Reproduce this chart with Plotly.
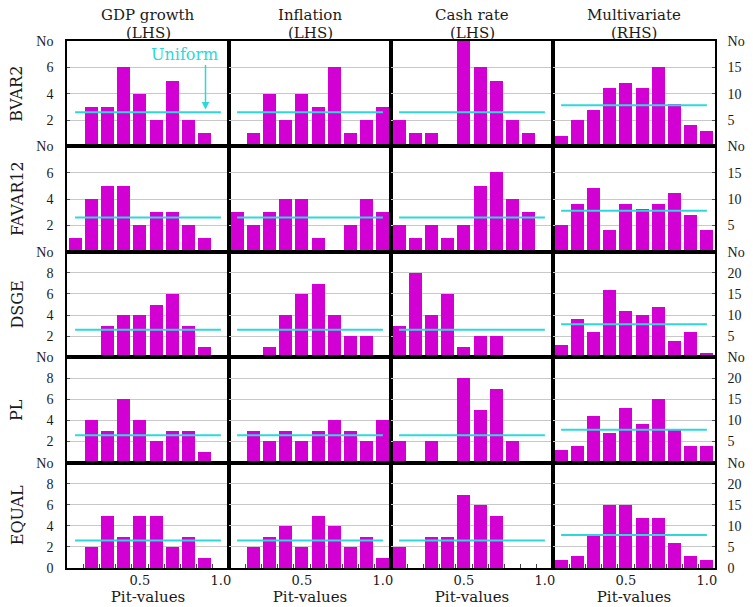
import plotly.graph_objects as go

# ---------------- data ----------------
pit_bins = [0.1, 0.2, 0.3, 0.4, 0.5, 0.6, 0.7, 0.8, 0.9, 1.0]
models = ["BVAR2", "FAVAR12", "DSGE", "PL", "EQUAL"]
col_titles = ["GDP growth", "Inflation", "Cash rate", "Multivariate"]
col_sides = ["(LHS)", "(LHS)", "(LHS)", "(RHS)"]

gdp_growth = [
    [0, 3, 3, 6, 4, 2, 5, 2, 1, 0],
    [1, 4, 5, 5, 2, 3, 3, 2, 1, 0],
    [0, 0, 3, 4, 4, 5, 6, 3, 1, 0],
    [0, 4, 3, 6, 4, 2, 3, 3, 1, 0],
    [0, 2, 5, 3, 5, 5, 2, 3, 1, 0],
]
inflation = [
    [0, 1, 4, 2, 4, 3, 6, 1, 2, 3],
    [3, 2, 3, 4, 4, 1, 0, 2, 4, 3],
    [0, 0, 1, 4, 6, 7, 4, 2, 2, 0],
    [0, 3, 2, 3, 2, 3, 4, 3, 2, 4],
    [0, 2, 3, 4, 2, 5, 4, 2, 3, 1],
]
cash_rate = [
    [2, 1, 1, 0, 8, 6, 5, 2, 1, 0],
    [2, 1, 2, 1, 2, 5, 6, 4, 3, 0],
    [3, 8, 4, 6, 1, 2, 2, 0, 0, 0],
    [2, 0, 2, 0, 8, 5, 7, 2, 0, 0],
    [2, 0, 3, 3, 7, 6, 5, 0, 0, 0],
]
multivariate = [
    [2, 5, 7, 11, 12, 11, 15, 8, 4, 3],
    [5, 9, 12, 4, 9, 8, 9, 11, 7, 4],
    [3, 9, 6, 16, 11, 10, 12, 4, 6, 1],
    [3, 4, 11, 7, 13, 9, 15, 8, 4, 4],
    [2, 3, 8, 15, 15, 12, 12, 6, 3, 2],
]
series = [gdp_growth, inflation, cash_rate, multivariate]
lhs_max = [8, 8, 10, 10, 10]
x_ticks = [0.5, 1.0]
x_tick_text = ["0.5", "1.0"]
x_minor = [0.15, 0.25, 0.35, 0.45, 0.55, 0.65, 0.75, 0.85, 0.95]

# ---------------- style ----------------
MAG = "#D200D2"
CYAN = "#2ED8D8"
GRID = "#C8C8C8"
FONT = "Liberation Serif"
WIDE = "DejaVu Serif"
TXT = "#1a1a1a"

fig = go.Figure()
nrows, ncols = 5, 4
layout = {}
for r in range(nrows):
    for c in range(ncols):
        idx = r * ncols + c + 1
        xa = "x" if idx == 1 else f"x{idx}"
        ya = "y" if idx == 1 else f"y{idx}"
        vals = series[c][r]
        fig.add_trace(go.Bar(
            x=pit_bins, y=vals, width=0.08, marker=dict(color=MAG, line=dict(width=0)),
            xaxis=xa, yaxis=ya, showlegend=False, hoverinfo="skip"))
        u = sum(vals) / len(vals)
        fig.add_trace(go.Scatter(
            x=[pit_bins[0], pit_bins[-1]], y=[u, u], mode="lines",
            line=dict(color=CYAN, width=2), xaxis=xa, yaxis=ya,
            showlegend=False, hoverinfo="skip"))

        bottom = (r == nrows - 1)
        xkey = "xaxis" if idx == 1 else f"xaxis{idx}"
        ykey = "yaxis" if idx == 1 else f"yaxis{idx}"
        xd = dict(domain=[c / ncols, (c + 1) / ncols], range=[0.05, 1.05], anchor=ya,
                  showgrid=False, zeroline=False, showline=True, mirror=True,
                  linecolor="black", linewidth=1.6, fixedrange=True, automargin=False)
        if bottom:
            xd.update(tickmode="array", tickvals=x_ticks, ticktext=x_tick_text,
                      ticks="", showticklabels=True,
                      tickfont=dict(family=WIDE, size=13, color=TXT),
                      minor=dict(tickmode="array", tickvals=x_minor, ticks="inside",
                                 ticklen=4, tickcolor="#444", tickwidth=1, showgrid=False),
                      title=dict(text="Pit-values", font=dict(family=WIDE, size=15, color=TXT),
                                 standoff=2))
        else:
            xd.update(showticklabels=False, ticks="")
        layout[xkey] = xd

        scale = 2.5 if c == 3 else 1.0
        ymax = lhs_max[r] * scale
        step = 5 if c == 3 else 2
        start = 0 if bottom else step
        tv = []
        v = start
        while v <= ymax + 1e-9:
            tv.append(v)
            v += step
        tt = [("No" if abs(t - ymax) < 1e-9 else f"{t:g}") for t in tv]
        yd = dict(domain=[(nrows - 1 - r) / nrows, (nrows - r) / nrows], range=[0, ymax],
                  anchor=xa, tickmode="array", tickvals=tv, ticktext=tt,
                  showgrid=True, gridcolor=GRID, gridwidth=1.2, zeroline=False,
                  showline=True, mirror=True, linecolor="black", linewidth=1.6,
                  fixedrange=True, automargin=False,
                  tickfont=dict(family=FONT, size=14, color=TXT))
        minor_vals = [t for t in tv if 0 < t < ymax]
        if c in (0, 3):
            yd.update(showticklabels=True, ticks="outside", ticklen=9,
                      tickcolor="rgba(0,0,0,0)",
                      minor=dict(tickmode="array", tickvals=minor_vals, ticks="inside",
                                 ticklen=3, tickcolor="#555", tickwidth=1, showgrid=False))
            if c == 3:
                yd.update(side="right", ticklen=8)
        else:
            yd.update(showticklabels=False, ticks="")
        layout[ykey] = yd

annotations = []
for c in range(ncols):
    xc = (c + 0.5) / ncols
    annotations.append(dict(text=col_titles[c], x=xc, y=1,
                            xref="paper", yref="paper", xanchor="center", yanchor="middle",
                            yshift=26, showarrow=False,
                            font=dict(family=WIDE, size=15, color=TXT)))
    annotations.append(dict(text=col_sides[c], x=xc, y=1,
                            xref="paper", yref="paper", xanchor="center", yanchor="middle",
                            yshift=8, showarrow=False,
                            font=dict(family=WIDE, size=15, color=TXT)))
for r in range(nrows):
    yc = (nrows - r - 0.5) / nrows
    annotations.append(dict(text=models[r], x=0, y=yc, xref="paper", yref="paper",
                            xanchor="center", yanchor="middle", xshift=-50, textangle=-90,
                            showarrow=False, font=dict(family=WIDE, size=16, color=TXT)))

annotations.append(dict(text="Uniform", x=0.775, y=7.0, xref="x", yref="y",
                        xanchor="center", yanchor="middle", showarrow=False,
                        font=dict(family=WIDE, size=16, color=CYAN)))
annotations.append(dict(text="", x=0.905, y=2.8, xref="x", yref="y",
                        ax=0.905, ay=6.3, axref="x", ayref="y", showarrow=True,
                        arrowhead=2, arrowsize=1, arrowwidth=1.5, arrowcolor=CYAN))

fig.update_layout(**layout)
fig.update_layout(
    width=753, height=607,
    margin=dict(l=67, r=38, t=41, b=39, pad=0, autoexpand=False),
    plot_bgcolor="white", paper_bgcolor="white",
    bargap=0, showlegend=False,
    annotations=annotations,
    font=dict(family=FONT, color=TXT),
)
# remove the page's default 8px body margin so the 753x607 figure fills the window
fig.write_html("out.html",
               config={"displayModeBar": False},
               post_script="document.body.style.margin='0';document.body.style.overflow='hidden';")
